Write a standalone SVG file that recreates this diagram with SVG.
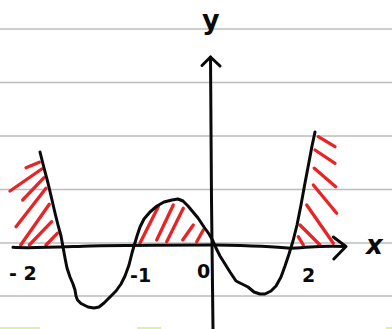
<svg xmlns="http://www.w3.org/2000/svg" width="392" height="329" viewBox="0 0 392 329">
<style>
.rule{stroke:#bdbdbd;stroke-width:1.6;fill:none}
.ink{stroke:#0a0a0a;stroke-width:3;fill:none;stroke-linecap:round;stroke-linejoin:round}
.hatch{stroke:#e82424;stroke-width:3.3;fill:none;stroke-linecap:round}
.lbl{font-family:"DejaVu Sans","Liberation Sans",sans-serif;font-weight:bold;fill:#0a0a0a}
</style>
<rect width="392" height="329" fill="#ffffff"/>
<g id="paper">
<line class="rule" x1="0" y1="29" x2="392" y2="29"/>
<line class="rule" x1="0" y1="82.5" x2="392" y2="82.5"/>
<line class="rule" x1="0" y1="136" x2="392" y2="136"/>
<line class="rule" x1="0" y1="189.5" x2="392" y2="189.5"/>
<line class="rule" x1="0" y1="243" x2="392" y2="243"/>
<line class="rule" x1="0" y1="296" x2="392" y2="296"/>
<rect x="0" y="327" width="40" height="2" fill="#c6f07c" opacity="0.7"/>
<rect x="137" y="327" width="24" height="2" fill="#c6f07c" opacity="0.7"/>
<rect x="386" y="327" width="6" height="2" fill="#c6f07c" opacity="0.7"/>
</g>
<g id="hatching">
<line class="hatch" x1="26" y1="167.7" x2="39.3" y2="162.3"/>
<line class="hatch" x1="10" y1="191" x2="41.7" y2="169"/>
<line class="hatch" x1="22.7" y1="200" x2="44" y2="177.7"/>
<line class="hatch" x1="16" y1="226.7" x2="46" y2="188.3"/>
<line class="hatch" x1="20.7" y1="245" x2="49.3" y2="204.3"/>
<line class="hatch" x1="29.3" y1="245" x2="51.7" y2="221.7"/>
<line class="hatch" x1="46" y1="245" x2="57.3" y2="233.3"/>
<line class="hatch" x1="140" y1="243" x2="158.3" y2="206.7"/>
<line class="hatch" x1="156.7" y1="240" x2="173.3" y2="205"/>
<line class="hatch" x1="166.7" y1="241.7" x2="183.3" y2="208.3"/>
<line class="hatch" x1="182.7" y1="240" x2="193.3" y2="225"/>
<line class="hatch" x1="196.7" y1="241.7" x2="203.3" y2="230"/>
<line class="hatch" x1="318.3" y1="136.7" x2="335" y2="146.7"/>
<line class="hatch" x1="315" y1="150" x2="335" y2="163.3"/>
<line class="hatch" x1="314.3" y1="168.3" x2="335.7" y2="186.7"/>
<line class="hatch" x1="313.3" y1="185" x2="336.7" y2="213.3"/>
<line class="hatch" x1="306.7" y1="205" x2="333.3" y2="243.3"/>
<line class="hatch" x1="300" y1="225" x2="320" y2="245"/>
<line class="hatch" x1="298.3" y1="236.7" x2="303.3" y2="245"/>
</g>
<g id="axes">
<path class="ink" d="M13,247.3 C30,248.5 60,247 90,246 C130,245 180,245 213,245 C240,245.5 270,246 290,248.3 C305,248 320,245 345,246.5"/>
<path class="ink" d="M333.3,237 L346,246.5 L333.8,259"/>
<path class="ink" d="M210.5,57 L211.5,200 L213,329"/>
<path class="ink" d="M202,65.5 L210.5,57 L220,66"/>
</g>
<g id="curve">
<polyline class="ink" points="40,152 44,168 48,183 52,200 55,213 58,225 61,236 63,247 65,258 67,268 70,277 73,284 75,290 76,296 77.5,300 81,303.5 88,307 94,308 99,307 104,303 110,297 116,291 121,284 125,276 129,265 132,253 134,246 137,236 140,227 144,219 150,212 157,206 164,202 172,200 178,199 183,201 188,206 193,212 198,218 204,227 209,234 213,241 216,248 220,256 225,264 230,272 236,281 242,284 248,287 254,292 260,294 265,294 271,291 276,286 281,277 285,266 289,254 293,241 297,225 301,205 305,183 309,162 312,146 315,132"/>
</g>
<g id="labels">
<text class="lbl" x="202" y="29" font-size="27" font-weight="normal" style="font-weight:600">y</text>
<text class="lbl" x="366" y="254" font-size="26" font-style="italic">x</text>
<text class="lbl" x="9" y="280" font-size="19">- 2</text>
<text class="lbl" x="130" y="282" font-size="19">-1</text>
<text class="lbl" x="197" y="278" font-size="19">0</text>
<text class="lbl" x="302" y="282" font-size="19">2</text>
</g>
</svg>
